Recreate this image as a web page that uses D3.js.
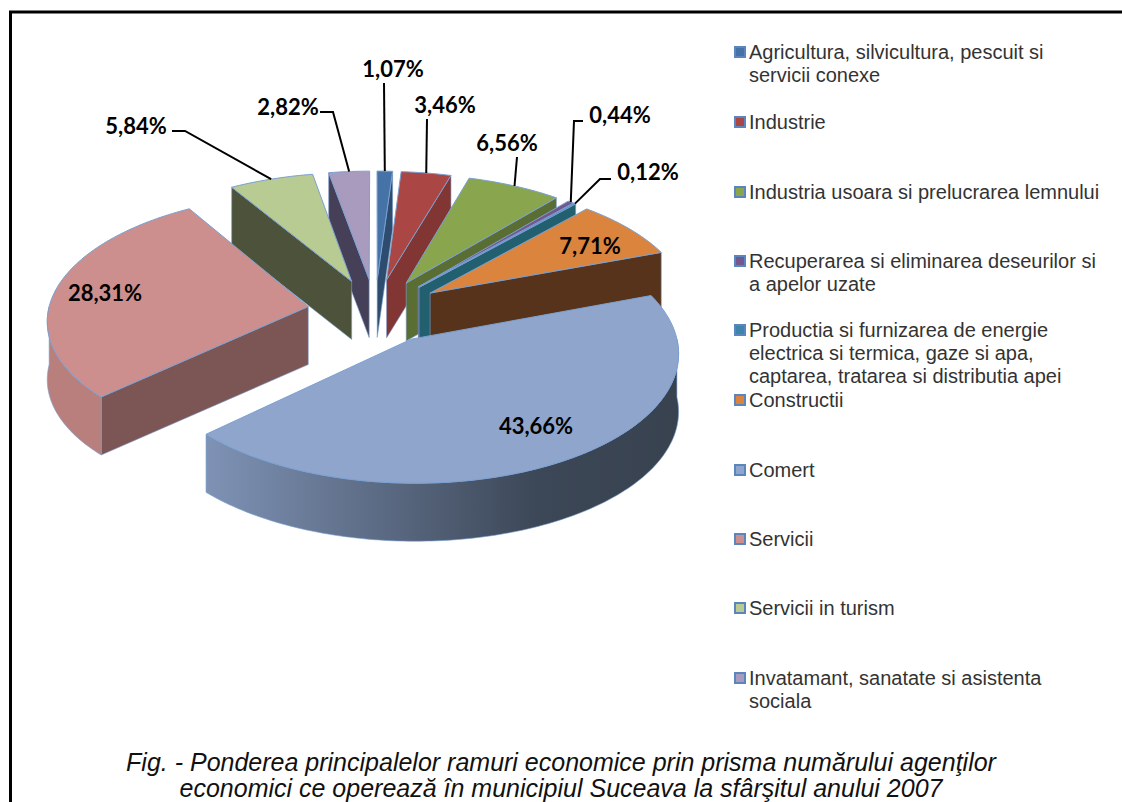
<!DOCTYPE html>
<html>
<head>
<meta charset="utf-8">
<script src="https://cdn.jsdelivr.net/npm/d3@7"></script>
<style>
  html, body { margin: 0; padding: 0; background: #fff; overflow: hidden; }
</style>
</head>
<body>
<script>
// chart values
const shares = [1.07, 3.46, 6.56, 0.44, 0.12, 7.71, 43.66, 28.31, 5.84, 2.82];
const shareLabels = ['1,07%', '3,46%', '6,56%', '0,44%', '0,12%', '7,71%', '43,66%', '28,31%', '5,84%', '2,82%'];
const legendLabels = [
  ['Agricultura, silvicultura, pescuit si', 'servicii conexe'],
  ['Industrie'],
  ['Industria usoara si prelucrarea lemnului'],
  ['Recuperarea si eliminarea deseurilor si', 'a apelor uzate'],
  ['Productia si furnizarea de energie', 'electrica si termica, gaze si apa,', 'captarea, tratarea si distributia apei'],
  ['Constructii'],
  ['Comert'],
  ['Servicii'],
  ['Servicii in turism'],
  ['Invatamant, sanatate si asistenta', 'sociala']
];
const captionLines = [
  'Fig. - Ponderea principalelor ramuri economice prin prisma numărului agenţilor',
  'economici ce operează în municipiul Suceava la sfârşitul anului 2007'
];

// colours
const topColors = ['#4573a7', '#aa4643', '#89a54e', '#71588f', '#3f84ad', '#db843d', '#90a5cc', '#cd8f8d', '#b8cb93', '#a89bbd'];
const sideColors = ['#2e4c6e', '#823634', '#5a6e33', '#4b3a5f', '#23606f', '#56331a', '#38424f', '#7b5654', '#4d533a', '#454058'];
const wallColors = ['#2e4c6e', '#823634', '#5a6e33', '#4b3a5f', '#23606f', '#56331a', 'url(#wallGrad)', '#b87f7c', '#4d533a', '#454058'];

// layout of the 3d pie
const cx = 375, cy = 311, radX = 260, radY = 124.5, persp = 0.096, depth = 58, explode = 0.26;

// label centres and leader lines, by slice
const labelPos = [[393, 68], [445, 104], [507, 142], [620, 114], [648, 171], [590, 245], [536, 425], [105, 292], [136, 125], [288, 106]];
const leaderStart = [[384, 83], [427, 119], [517, 157], [583, 121], [611, 179], null, null, null, [172, 131], [320, 112]];
const leaderElbow = [null, null, null, [574, 121], [600, 179], null, null, null, [185, 131], [333, 112]];
const legendY = [52, 122, 192, 261, 330, 400, 470, 539, 608, 678];

const svg = d3.select('body').append('svg')
  .attr('width', 1122)
  .attr('height', 802)
  .style('display', 'block');

let grad = svg.append('defs').append('linearGradient')
  .attr('id', 'wallGrad')
  .attr('gradientUnits', 'userSpaceOnUse')
  .attr('x1', 204).attr('y1', 0).attr('x2', 680).attr('y2', 0);
grad.append('stop').attr('offset', '0').attr('stop-color', '#7f93b6');
grad.append('stop').attr('offset', '0.7').attr('stop-color', '#3c4757');
grad.append('stop').attr('offset', '1').attr('stop-color', '#38424f');

// frame, the page cuts it off on the right and at the bottom
svg.append('path')
  .attr('d', 'M1122,12H10.5V802')
  .attr('fill', 'none')
  .attr('stroke', '#000')
  .attr('stroke-width', 3);

// project a point of the pie plane (x right, y towards viewer) on the screen
const project = (x, y, drop) => {
  let s = 1 / (1 - persp * y);
  return [cx + radX * x * s, cy + radY * y * s + (drop || 0)];
};

const line = d3.line();
const pie = d3.pie().sort(null).value(d => d);
const arcs = pie(shares).map((d, i) => {
  let mid = (d.startAngle + d.endAngle) / 2;
  return {
    i: i,
    a0: d.startAngle,
    a1: d.endAngle,
    mid: mid,
    ox: explode * Math.sin(mid),
    oy: -explode * Math.cos(mid)
  };
});

const arcPoints = (d, a0, a1, drop) => {
  let n = Math.max(2, Math.ceil((a1 - a0) / 0.02));
  return d3.range(n + 1).map(k => {
    let a = a0 + (a1 - a0) * k / n;
    return project(d.ox + Math.sin(a), d.oy - Math.cos(a), drop);
  });
};

const radialFace = (d, a) => {
  let p0 = project(d.ox, d.oy), p1 = arcPoints(d, a, a, 0)[0];
  return line([p0, p1, [p1[0], p1[1] + depth], [p0[0], p0[1] + depth]]) + 'Z';
};

const edge = '#7aa0d2';
const pieG = svg.append('g').attr('id', 'pie');

// back slices first
arcs.slice().sort((a, b) => a.oy - b.oy).forEach(d => {
  let g = pieG.append('g');

  // radial faces, only those turned to the viewer
  if (-Math.cos(d.a0 - Math.PI / 2) > 0) {
    g.append('path').attr('d', radialFace(d, d.a0)).attr('fill', sideColors[d.i]).attr('stroke', edge).attr('stroke-width', 0.6);
  }
  if (-Math.cos(d.a1 + Math.PI / 2) > 0) {
    g.append('path').attr('d', radialFace(d, d.a1)).attr('fill', sideColors[d.i]).attr('stroke', edge).attr('stroke-width', 0.6);
  }

  // outer wall on the near half
  let w0 = Math.max(d.a0, Math.PI / 2), w1 = Math.min(d.a1, Math.PI * 1.5);
  if (w1 > w0) {
    let up = arcPoints(d, w0, w1, 0);
    let down = arcPoints(d, w0, w1, depth).reverse();
    g.append('path').attr('d', line(up.concat(down)) + 'Z').attr('fill', wallColors[d.i]).attr('stroke', edge).attr('stroke-width', 0.6);
  }

  // top face
  let top = [project(d.ox, d.oy)].concat(arcPoints(d, d.a0, d.a1, 0));
  g.append('path').attr('d', line(top) + 'Z').attr('fill', topColors[d.i]).attr('stroke', edge).attr('stroke-width', 1);
});

// leader lines end on the middle of the outer arc
arcs.forEach(d => {
  if (!leaderStart[d.i]) return;
  let end = project(d.ox + Math.sin(d.mid), d.oy - Math.cos(d.mid));
  let pts = [leaderStart[d.i]];
  if (leaderElbow[d.i]) pts.push(leaderElbow[d.i]);
  pts.push(end);
  svg.append('path')
    .attr('d', line(pts))
    .attr('fill', 'none')
    .attr('stroke', '#000')
    .attr('stroke-width', 2);
});

svg.append('g').selectAll('text')
  .data(shareLabels)
  .enter().append('text')
  .attr('x', (d, i) => labelPos[i][0])
  .attr('y', (d, i) => labelPos[i][1])
  .attr('text-anchor', 'middle')
  .attr('dominant-baseline', 'central')
  .attr('font-family', 'Lato')
  .attr('font-weight', 'bold')
  .attr('font-size', 22)
  .attr('fill', '#000')
  .text(d => d);

// legend
const legend = svg.append('g').attr('id', 'legend');
legendLabels.forEach((lines, i) => {
  legend.append('rect')
    .attr('x', 735)
    .attr('y', legendY[i] - 5)
    .attr('width', 10)
    .attr('height', 10)
    .attr('fill', topColors[i])
    .attr('stroke', '#5b85bd')
    .attr('stroke-width', 2);
  lines.forEach((t, k) => {
    legend.append('text')
      .attr('x', 749)
      .attr('y', legendY[i] + k * 23)
      .attr('dominant-baseline', 'central')
      .attr('font-family', 'Liberation Sans')
      .attr('font-size', 20)
      .attr('fill', '#333')
      .text(t);
  });
});

// caption
svg.append('g').selectAll('text')
  .data(captionLines)
  .enter().append('text')
  .attr('x', 561)
  .attr('y', (d, i) => 762 + i * 26)
  .attr('text-anchor', 'middle')
  .attr('dominant-baseline', 'central')
  .attr('font-family', 'Liberation Sans')
  .attr('font-style', 'italic')
  .attr('font-size', 25)
  .attr('fill', '#111')
  .text(d => d);
</script>
</body>
</html>
